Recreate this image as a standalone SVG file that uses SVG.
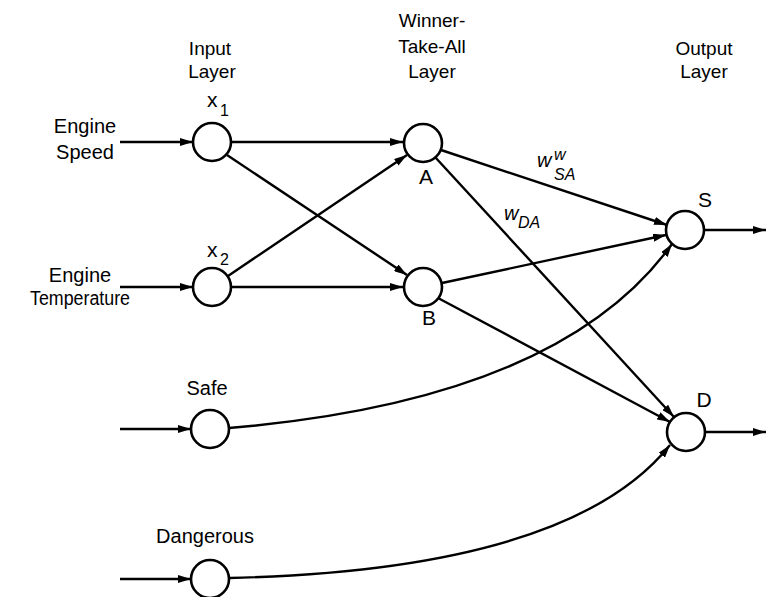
<svg xmlns="http://www.w3.org/2000/svg" width="766" height="597" viewBox="0 0 766 597">
<style>
text{font-family:"Liberation Sans",Arial,sans-serif;font-size:19px;fill:#000}
.lbl{text-anchor:middle}
.in{text-anchor:middle;font-size:20px}
.big{font-size:21px;text-anchor:middle}
.node{fill:#fff;stroke:#000;stroke-width:2.6}
.c{fill:none;stroke:#000;stroke-width:2.4;marker-end:url(#ah)}
.w{font-style:italic;font-size:20px}
.sub{font-style:italic;font-size:16px}
</style>
<defs>
<marker id="ah" viewBox="0 0 13 8" refX="13" refY="4" markerWidth="13" markerHeight="8" markerUnits="userSpaceOnUse" orient="auto">
<path d="M0,0 L13,4 L0,8 z" fill="#000"/>
</marker>
</defs>
<g id="headers">
<text class="lbl" x="210" y="55">Input</text>
<text class="lbl" x="212" y="78">Layer</text>
<text class="lbl" x="432" y="27">Winner-</text>
<text class="lbl" x="432" y="53">Take-All</text>
<text class="lbl" x="432" y="78">Layer</text>
<text class="lbl" x="704" y="55">Output</text>
<text class="lbl" x="704" y="78">Layer</text>
<text class="in" x="85" y="133">Engine</text>
<text class="in" x="85" y="159">Speed</text>
<text class="in" x="80" y="282">Engine</text>
<text class="in" x="80" y="305" textLength="100" lengthAdjust="spacingAndGlyphs">Temperature</text>
<text class="in" x="207" y="395">Safe</text>
<text class="in" x="205" y="543">Dangerous</text>
</g>
<g id="connectors">
<line class="c" x1="120" y1="142" x2="193" y2="142"/>
<line class="c" x1="120" y1="287" x2="193" y2="287"/>
<line class="c" x1="120" y1="429" x2="191" y2="429"/>
<line class="c" x1="120" y1="579" x2="191" y2="579"/>
<line class="c" x1="232" y1="142" x2="403" y2="142"/>
<line class="c" x1="227" y1="155" x2="407" y2="275"/>
<line class="c" x1="228" y1="276" x2="407" y2="155"/>
<line class="c" x1="232" y1="287" x2="403" y2="287"/>
<line class="c" x1="441" y1="150" x2="667" y2="225"/>
<line class="c" x1="435" y1="157" x2="674" y2="417"/>
<line class="c" x1="442" y1="283" x2="666" y2="235"/>
<line class="c" x1="438" y1="298" x2="670" y2="422"/>
<path class="c" d="M229,428 Q560,400 672,244"/>
<path class="c" d="M229,578 Q570,570 670,445"/>
<line class="c" x1="704" y1="230" x2="766" y2="230"/>
<line class="c" x1="705" y1="432" x2="766" y2="432"/>
</g>
<g id="edge-labels">
<text class="w" x="537" y="167">w<tspan x="554" y="160" font-size="16">w</tspan><tspan class="sub" x="554" y="180">SA</tspan></text>
<text class="w" x="504" y="220">w<tspan class="sub" x="518" y="228">DA</tspan></text>
</g>
<g id="x1"><circle class="node" cx="212" cy="142" r="19"/><text x="207" y="107" style="font-size:21px">x<tspan x="220" y="116" style="font-size:16px">1</tspan></text></g>
<g id="x2"><circle class="node" cx="212" cy="287" r="19"/><text x="207" y="257" style="font-size:21px">x<tspan x="220" y="265" style="font-size:16px">2</tspan></text></g>
<g id="safe"><circle class="node" cx="210" cy="429" r="19"/></g>
<g id="dangerous"><circle class="node" cx="210" cy="579" r="19"/></g>
<g id="A"><circle class="node" cx="423" cy="143" r="19"/><text class="big" x="426" y="184">A</text></g>
<g id="B"><circle class="node" cx="423" cy="287" r="19"/><text class="big" x="429" y="325">B</text></g>
<g id="S"><circle class="node" cx="685" cy="230" r="19"/><text class="big" x="705" y="207">S</text></g>
<g id="D"><circle class="node" cx="686" cy="432" r="19"/><text class="big" x="704" y="407">D</text></g>
</svg>
